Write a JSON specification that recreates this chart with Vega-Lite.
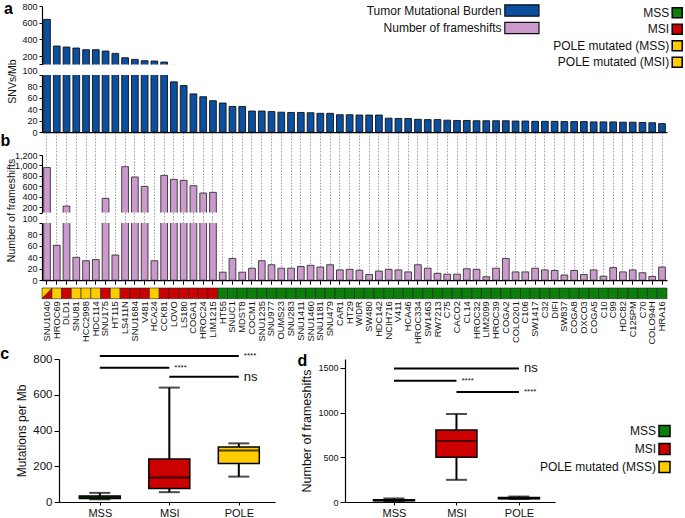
{
  "$schema": "https://vega.github.io/schema/vega-lite/v6.json",
  "padding": {"left": 0, "top": 0, "right": 0, "bottom": 0},
  "config": {
    "font": "Liberation Sans",
    "view": {"stroke": null},
    "axis": {"domainColor": "black", "tickColor": "black", "labelColor": "#111", "titleColor": "#111", "titleFontWeight": "normal", "grid": false, "domainWidth": 1.2, "tickWidth": 1, "labelFont": "Liberation Sans", "titleFont": "Liberation Sans", "labelOverlap": false},
    "title": {"font": "Liberation Sans", "fontWeight": "bold", "fontSize": 16, "anchor": "start", "frame": "bounds", "color": "black", "offset": 0},
    "legend": {"labelFont": "Liberation Sans", "labelColor": "#111"}
  },
  "datasets": {
    "cells": [
      {"cell": "SNU1040", "status": "POLE mutated (MSI)", "tmb": 640, "fs": 960},
      {"cell": "HROC69", "status": "POLE mutated (MSS)", "tmb": 320, "fs": 61},
      {"cell": "DLD1", "status": "MSI", "tmb": 308, "fs": 225},
      {"cell": "SNU81", "status": "POLE mutated (MSS)", "tmb": 296, "fs": 40},
      {"cell": "HCC2998", "status": "POLE mutated (MSS)", "tmb": 276, "fs": 34},
      {"cell": "HDC114", "status": "POLE mutated (MSS)", "tmb": 276, "fs": 36},
      {"cell": "SNU175", "status": "MSI", "tmb": 260, "fs": 372},
      {"cell": "HT115", "status": "POLE mutated (MSS)", "tmb": 232, "fs": 44},
      {"cell": "LS411N", "status": "MSI", "tmb": 180, "fs": 977},
      {"cell": "SNU1684", "status": "MSI", "tmb": 160, "fs": 780},
      {"cell": "V481", "status": "MSI", "tmb": 144, "fs": 601},
      {"cell": "HCA24", "status": "POLE mutated (MSS)", "tmb": 140, "fs": 34},
      {"cell": "CCK81", "status": "MSI", "tmb": 128, "fs": 811},
      {"cell": "LOVO", "status": "MSI", "tmb": 88, "fs": 735},
      {"cell": "LS180", "status": "MSI", "tmb": 81.5, "fs": 716},
      {"cell": "COGA1", "status": "MSI", "tmb": 67, "fs": 614},
      {"cell": "HROC24", "status": "MSI", "tmb": 62, "fs": 474},
      {"cell": "LIM1215", "status": "MSI", "tmb": 55, "fs": 487},
      {"cell": "HT55", "status": "MSS", "tmb": 51, "fs": 14},
      {"cell": "SNUC1", "status": "MSS", "tmb": 45, "fs": 38},
      {"cell": "MDST8", "status": "MSS", "tmb": 45, "fs": 14},
      {"cell": "COCM1", "status": "MSS", "tmb": 37, "fs": 21},
      {"cell": "SNU1235", "status": "MSS", "tmb": 37, "fs": 34},
      {"cell": "SNU977", "status": "MSS", "tmb": 36, "fs": 27},
      {"cell": "OUMS23", "status": "MSS", "tmb": 35, "fs": 21},
      {"cell": "SNU283", "status": "MSS", "tmb": 34.5, "fs": 21},
      {"cell": "SNU1411", "status": "MSS", "tmb": 34.5, "fs": 24},
      {"cell": "SNU1460", "status": "MSS", "tmb": 34, "fs": 26},
      {"cell": "SNU1181", "status": "MSS", "tmb": 33, "fs": 23},
      {"cell": "SNU479", "status": "MSS", "tmb": 33, "fs": 27},
      {"cell": "CAR1", "status": "MSS", "tmb": 30.5, "fs": 18},
      {"cell": "HT29", "status": "MSS", "tmb": 30.5, "fs": 19},
      {"cell": "WIDR", "status": "MSS", "tmb": 30, "fs": 17.5},
      {"cell": "SW480", "status": "MSS", "tmb": 30, "fs": 10},
      {"cell": "HDC142", "status": "MSS", "tmb": 30, "fs": 16},
      {"cell": "NCIH716", "status": "MSS", "tmb": 24.5, "fs": 19},
      {"cell": "V411", "status": "MSS", "tmb": 24, "fs": 18},
      {"cell": "HCA46", "status": "MSS", "tmb": 24, "fs": 14.5},
      {"cell": "HROC334", "status": "MSS", "tmb": 22.5, "fs": 27},
      {"cell": "SW1463", "status": "MSS", "tmb": 22, "fs": 21},
      {"cell": "RW7213", "status": "MSS", "tmb": 22, "fs": 12},
      {"cell": "C75", "status": "MSS", "tmb": 21, "fs": 10.5},
      {"cell": "CACO2", "status": "MSS", "tmb": 20.5, "fs": 10.5},
      {"cell": "CL14", "status": "MSS", "tmb": 20.5, "fs": 20},
      {"cell": "HROC32", "status": "MSS", "tmb": 20, "fs": 19},
      {"cell": "LIM2099", "status": "MSS", "tmb": 20, "fs": 6},
      {"cell": "HROC39", "status": "MSS", "tmb": 20, "fs": 21},
      {"cell": "COGA2", "status": "MSS", "tmb": 20, "fs": 38},
      {"cell": "COLO201", "status": "MSS", "tmb": 19.5, "fs": 14.5},
      {"cell": "C106", "status": "MSS", "tmb": 19.5, "fs": 14.5},
      {"cell": "SW1417", "status": "MSS", "tmb": 19, "fs": 21},
      {"cell": "C32", "status": "MSS", "tmb": 19, "fs": 18},
      {"cell": "DIFI", "status": "MSS", "tmb": 19, "fs": 17},
      {"cell": "SW837", "status": "MSS", "tmb": 18.5, "fs": 9},
      {"cell": "COGA8", "status": "MSS", "tmb": 18.5, "fs": 17},
      {"cell": "OXCO3", "status": "MSS", "tmb": 18.5, "fs": 10},
      {"cell": "COGA5", "status": "MSS", "tmb": 18, "fs": 18},
      {"cell": "C10", "status": "MSS", "tmb": 18, "fs": 7},
      {"cell": "C99", "status": "MSS", "tmb": 18, "fs": 22},
      {"cell": "HDC82", "status": "MSS", "tmb": 17.5, "fs": 14.5},
      {"cell": "C125PM", "status": "MSS", "tmb": 17.5, "fs": 18},
      {"cell": "C70", "status": "MSS", "tmb": 17, "fs": 13},
      {"cell": "COLO94H", "status": "MSS", "tmb": 16.5, "fs": 6.5},
      {"cell": "HRA16", "status": "MSS", "tmb": 15, "fs": 23}
    ],
    "boxc": [
      {"group": "MSS", "min": 15, "q1": 20, "median": 25, "q3": 34, "max": 51},
      {"group": "MSI", "min": 55, "q1": 75, "median": 137, "q3": 240, "max": 640},
      {"group": "POLE", "min": 142, "q1": 215, "median": 288, "q3": 308, "max": 328}
    ],
    "boxd": [
      {"group": "MSS", "min": 6, "q1": 14, "median": 18, "q3": 25, "max": 40},
      {"group": "MSI", "min": 248, "q1": 500, "median": 683, "q3": 805, "max": 985},
      {"group": "POLE", "min": 34, "q1": 35, "median": 40, "q3": 50, "max": 61}
    ],
    "sigc": [
      {"g1": "MSS", "g2": "POLE", "yv": 817, "label": "****"},
      {"g1": "MSS", "g2": "MSI", "yv": 751, "label": "****"},
      {"g1": "MSI", "g2": "POLE", "yv": 701, "label": "ns"}
    ],
    "sigd": [
      {"g1": "MSS", "g2": "POLE", "yv": 1495, "label": "ns"},
      {"g1": "MSS", "g2": "MSI", "yv": 1356, "label": "****"},
      {"g1": "MSI", "g2": "POLE", "yv": 1230, "label": "****"}
    ]
  },
  "resolve": {"scale": {"color": "independent", "fill": "independent"}},
  "spacing": 1,
  "vconcat": [
    {
      "bounds": "flush",
      "spacing": 0,
      "vconcat": [
        {
          "width": 625, "height": 58.4,
          "title": {"text": "a", "dx": -18, "dy": 18.9},
          "data": {"name": "cells"},
          "mark": {"type": "bar", "clip": true, "stroke": "#111", "strokeWidth": 0.9},
          "encoding": {
            "x": {"field": "cell", "type": "nominal", "sort": null, "scale": {"paddingInner": 0.31, "paddingOuter": 0.167}, "axis": null},
            "y": {"field": "tmb", "type": "quantitative", "scale": {"domain": [100, 800], "zero": false}, "axis": {"values": [100, 200, 400, 600, 800], "labelExpr": "datum.value == 100 ? '' : datum.label", "title": null, "labelFontSize": 9, "tickSize": 3, "labelPadding": 2}},
            "fill": {"datum": "Tumor Mutational Burden", "type": "nominal", "scale": {"domain": ["Tumor Mutational Burden", "Number of  frameshifts"], "range": ["#0B4F9E", "#CC99CC"]},
              "legend": {"orient": "none", "legendX": 473.4, "legendY": -2, "title": null, "symbolType": "M-3,-1H3V1H-3Z", "symbolSize": 130, "symbolStrokeColor": "black", "symbolStrokeWidth": 1.2, "labelAlign": "right", "labelOffset": -26.8, "labelFontSize": 12, "rowPadding": 0.5, "padding": 0}}
          }
        },
        {"data": {"values": []}, "mark": "point", "width": 625, "height": 9.4},
        {
          "width": 625, "height": 57.2,
          "data": {"name": "cells"},
          "mark": {"type": "bar", "clip": true, "stroke": "#111", "strokeWidth": 0.9},
          "encoding": {
            "x": {"field": "cell", "type": "nominal", "sort": null, "scale": {"paddingInner": 0.31, "paddingOuter": 0.167}, "axis": {"orient": "bottom", "labels": false, "title": null, "tickSize": 22, "tickColor": "#888", "tickDash": [1.5, 1.5], "tickWidth": 0.8}},
            "y": {"field": "tmb", "type": "quantitative", "scale": {"domain": [0, 100]}, "axis": {"values": [0, 20, 40, 60, 80, 100], "title": "SNVs/Mb", "titleY": 6, "titlePadding": 4, "titleFontSize": 10.5, "labelFontSize": 9, "tickSize": 3, "labelPadding": 2, "labelBaseline": {"condition": {"test": "datum.value == 100", "value": "bottom"}, "value": "middle"}}},
            "fill": {"datum": "Tumor Mutational Burden", "type": "nominal"}
          }
        },
        {"data": {"values": []}, "mark": "point", "width": 625, "height": 22},
        {
          "width": 625, "height": 57.6,
          "title": {"text": "b", "dx": -14, "dy": 2},
          "data": {"name": "cells"},
          "mark": {"type": "bar", "clip": true, "stroke": "#333", "strokeWidth": 0.9},
          "encoding": {
            "x": {"field": "cell", "type": "nominal", "sort": null, "scale": {"paddingInner": 0.31, "paddingOuter": 0.167}, "axis": {"orient": "bottom", "labels": false, "domain": false, "title": null, "tickSize": 9.9, "tickColor": "#888", "tickDash": [1.5, 1.5], "tickWidth": 0.8, "grid": true, "gridDash": [1.5, 1.5], "gridColor": "#888", "gridWidth": 0.8}},
            "y": {"field": "fs", "type": "quantitative", "scale": {"domain": [100, 1200], "zero": false}, "axis": {"values": [100, 200, 400, 600, 800, 1000, 1200], "labelExpr": "datum.value == 100 ? '' : datum.label", "title": null, "labelFontSize": 9, "tickSize": 3, "labelPadding": 2}},
            "fill": {"datum": "Number of  frameshifts", "type": "nominal"}
          }
        },
        {"data": {"values": []}, "mark": "point", "width": 625, "height": 9.9},
        {
          "width": 625, "height": 57.2,
          "data": {"name": "cells"},
          "mark": {"type": "bar", "clip": true, "stroke": "#333", "strokeWidth": 0.9},
          "encoding": {
            "x": {"field": "cell", "type": "nominal", "sort": null, "scale": {"paddingInner": 0.31, "paddingOuter": 0.167}, "axis": {"orient": "bottom", "labels": false, "title": null, "tickSize": 4, "grid": true, "gridDash": [1.5, 1.5], "gridColor": "#888", "gridWidth": 0.8}},
            "y": {"field": "fs", "type": "quantitative", "scale": {"domain": [0, 100]}, "axis": {"values": [0, 20, 40, 60, 80, 100], "title": "Number of frameshifts", "titleY": -13, "titlePadding": 5, "titleFontSize": 10.5, "labelFontSize": 9, "tickSize": 3, "labelPadding": 2, "labelBaseline": {"condition": {"test": "datum.value == 100", "value": "bottom"}, "value": "middle"}}},
            "fill": {"datum": "Number of  frameshifts", "type": "nominal"}
          }
        },
        {"data": {"values": []}, "mark": "point", "width": 625, "height": 7},
        {
          "width": 625, "height": 10.7,
          "data": {"name": "cells"},
          "layer": [
            {
              "mark": {"type": "bar", "stroke": "#222", "strokeWidth": 0.6},
              "encoding": {
                "x": {"field": "cell", "type": "nominal", "sort": null, "scale": {"paddingInner": 0, "paddingOuter": 0}, "axis": {"title": null, "domain": false, "ticks": false, "labelAngle": 270, "labelFontSize": 9.3, "labelPadding": 2}},
                "color": {"field": "status", "type": "nominal",
                  "scale": {"domain": ["MSS", "MSI", "POLE mutated (MSS)", "POLE mutated (MSI)"], "range": ["#0A7F0A", "#CC0000", "#FFCC00", "#FFCC00"]},
                  "legend": {"orient": "none", "legendX": 629.2, "legendY": 0.8, "title": null, "direction": "vertical", "symbolType": "square", "symbolSize": 100, "symbolStrokeColor": "black", "symbolStrokeWidth": 1.5, "labelAlign": "right", "labelOffset": -14, "labelFontSize": 12, "rowPadding": 0.5, "padding": 0}}
              }
            },
            {
              "transform": [{"filter": "datum.status == 'POLE mutated (MSI)'"}],
              "mark": {"type": "point", "shape": "M1,-1L1,1L-1,1Z", "filled": true, "color": "#CC0000", "size": 95, "opacity": 1, "stroke": "#222", "strokeWidth": 0.5},
              "encoding": {
                "x": {"field": "cell", "type": "nominal", "sort": null}
              }
            }
          ]
        }
      ]
    },
    {
      "bounds": "flush",
      "spacing": 0,
      "hconcat": [
        {"data": {"values": []}, "mark": "point", "width": 17, "height": 143},
        {
          "width": 216, "height": 143,
          "title": {"text": "c", "dx": -15.5, "dy": 14.4},
          "layer": [
            {"data": {"name": "boxc"}, "mark": {"type": "rule", "color": "black", "strokeWidth": 2},
              "encoding": {
                "x": {"field": "group", "type": "nominal", "sort": null, "scale": {"type": "point", "domain": ["MSS", "MSI", "POLE"], "padding": 0.554, "align": 0.53}, "axis": {"title": null, "labelAngle": 0, "labelFontSize": 11, "tickSize": 3, "labelPadding": 2}},
                "y": {"field": "min", "type": "quantitative", "scale": {"domain": [0, 800]}, "axis": {"values": [0, 200, 400, 600, 800], "title": "Mutations per Mb", "titleFontSize": 12, "labelFontSize": 11.5, "tickSize": 5, "titlePadding": 4}},
                "y2": {"field": "max"}}},
            {"data": {"name": "boxc"}, "mark": {"type": "bar", "size": 41, "stroke": "black", "strokeWidth": 1.5},
              "encoding": {
                "x": {"field": "group", "type": "nominal", "sort": null},
                "y": {"field": "q1", "type": "quantitative", "axis": {"values": [0, 200, 400, 600, 800], "title": "Mutations per Mb", "titleFontSize": 12, "labelFontSize": 11.5, "tickSize": 5, "titlePadding": 4}},
                "y2": {"field": "q3"},
                "color": {"field": "group", "type": "nominal", "scale": {"domain": ["MSS", "MSI", "POLE"], "range": ["#0A7F0A", "#CC0000", "#FFCC00"]},
                  "legend": {"orient": "none", "legendX": 616, "legendY": 65.4, "title": null, "symbolType": "square", "symbolSize": 121, "symbolStrokeColor": "black", "symbolStrokeWidth": 1.5, "labelAlign": "right", "labelOffset": -15, "labelFontSize": 12, "rowPadding": 1, "padding": 0, "labelExpr": "datum.label == 'POLE' ? 'POLE mutated (MSS)' : datum.label"}}}},
            {"data": {"name": "boxc"}, "mark": {"type": "tick", "size": 41, "thickness": 1.8, "color": "black"},
              "encoding": {"x": {"field": "group", "type": "nominal", "sort": null}, "y": {"field": "median", "type": "quantitative", "axis": {"values": [0, 200, 400, 600, 800], "title": "Mutations per Mb", "titleFontSize": 12, "labelFontSize": 11.5, "tickSize": 5, "titlePadding": 4}}}},
            {"data": {"name": "boxc"}, "mark": {"type": "tick", "size": 21, "thickness": 2, "color": "black"},
              "encoding": {"x": {"field": "group", "type": "nominal", "sort": null}, "y": {"field": "min", "type": "quantitative", "axis": {"values": [0, 200, 400, 600, 800], "title": "Mutations per Mb", "titleFontSize": 12, "labelFontSize": 11.5, "tickSize": 5, "titlePadding": 4}}}},
            {"data": {"name": "boxc"}, "mark": {"type": "tick", "size": 21, "thickness": 2, "color": "black"},
              "encoding": {"x": {"field": "group", "type": "nominal", "sort": null}, "y": {"field": "max", "type": "quantitative", "axis": {"values": [0, 200, 400, 600, 800], "title": "Mutations per Mb", "titleFontSize": 12, "labelFontSize": 11.5, "tickSize": 5, "titlePadding": 4}}}},
            {"data": {"name": "sigc"}, "mark": {"type": "rule", "color": "black", "strokeWidth": 2},
              "encoding": {"x": {"field": "g1", "type": "nominal"}, "x2": {"field": "g2"}, "y": {"field": "yv", "type": "quantitative", "axis": {"values": [0, 200, 400, 600, 800], "title": "Mutations per Mb", "titleFontSize": 12, "labelFontSize": 11.5, "tickSize": 5, "titlePadding": 4}}}},
            {"data": {"name": "sigc"}, "mark": {"type": "text", "align": "left", "baseline": "middle", "dx": 5, "color": "#111"},
              "encoding": {"x": {"field": "g2", "type": "nominal"}, "y": {"field": "yv", "type": "quantitative", "axis": {"values": [0, 200, 400, 600, 800], "title": "Mutations per Mb", "titleFontSize": 12, "labelFontSize": 11.5, "tickSize": 5, "titlePadding": 4}}, "text": {"field": "label"},
                "size": {"condition": {"test": "datum.label == 'ns'", "value": 13}, "value": 8}}}
          ]
        },
        {"data": {"values": []}, "mark": "point", "width": 70, "height": 143},
        {
          "width": 210, "height": 143,
          "title": {"text": "d", "dx": -3.5, "dy": 14.4},
          "layer": [
            {"data": {"name": "boxd"}, "mark": {"type": "rule", "color": "black", "strokeWidth": 2},
              "encoding": {
                "x": {"field": "group", "type": "nominal", "sort": null, "scale": {"type": "point", "domain": ["MSS", "MSI", "POLE"], "padding": 0.68, "align": 0.576}, "axis": {"title": null, "labelAngle": 0, "labelFontSize": 11, "tickSize": 3, "labelPadding": 2}},
                "y": {"field": "min", "type": "quantitative", "scale": {"domain": [0, 1540]}, "axis": {"values": [0, 500, 1000, 1500], "format": "d", "title": "Number of frameshifts", "titleFontSize": 12.5, "labelFontSize": 9, "tickSize": 5, "titlePadding": 4}},
                "y2": {"field": "max"}}},
            {"data": {"name": "boxd"}, "mark": {"type": "bar", "size": 41, "stroke": "black", "strokeWidth": 1.5},
              "encoding": {
                "x": {"field": "group", "type": "nominal", "sort": null},
                "y": {"field": "q1", "type": "quantitative"},
                "y2": {"field": "q3"},
                "color": {"field": "group", "type": "nominal"}}},
            {"data": {"name": "boxd"}, "mark": {"type": "tick", "size": 41, "thickness": 1.8, "color": "black"},
              "encoding": {"x": {"field": "group", "type": "nominal", "sort": null}, "y": {"field": "median", "type": "quantitative"}}},
            {"data": {"name": "boxd"}, "mark": {"type": "tick", "size": 21, "thickness": 2, "color": "black"},
              "encoding": {"x": {"field": "group", "type": "nominal", "sort": null}, "y": {"field": "min", "type": "quantitative"}}},
            {"data": {"name": "boxd"}, "mark": {"type": "tick", "size": 21, "thickness": 2, "color": "black"},
              "encoding": {"x": {"field": "group", "type": "nominal", "sort": null}, "y": {"field": "max", "type": "quantitative"}}},
            {"data": {"name": "sigd"}, "mark": {"type": "rule", "color": "black", "strokeWidth": 2},
              "encoding": {"x": {"field": "g1", "type": "nominal"}, "x2": {"field": "g2"}, "y": {"field": "yv", "type": "quantitative"}}},
            {"data": {"name": "sigd"}, "mark": {"type": "text", "align": "left", "baseline": "middle", "dx": 5, "color": "#111"},
              "encoding": {"x": {"field": "g2", "type": "nominal"}, "y": {"field": "yv", "type": "quantitative"}, "text": {"field": "label"},
                "size": {"condition": {"test": "datum.label == 'ns'", "value": 13}, "value": 8}}}
          ]
        }
      ]
    }
  ]
}
